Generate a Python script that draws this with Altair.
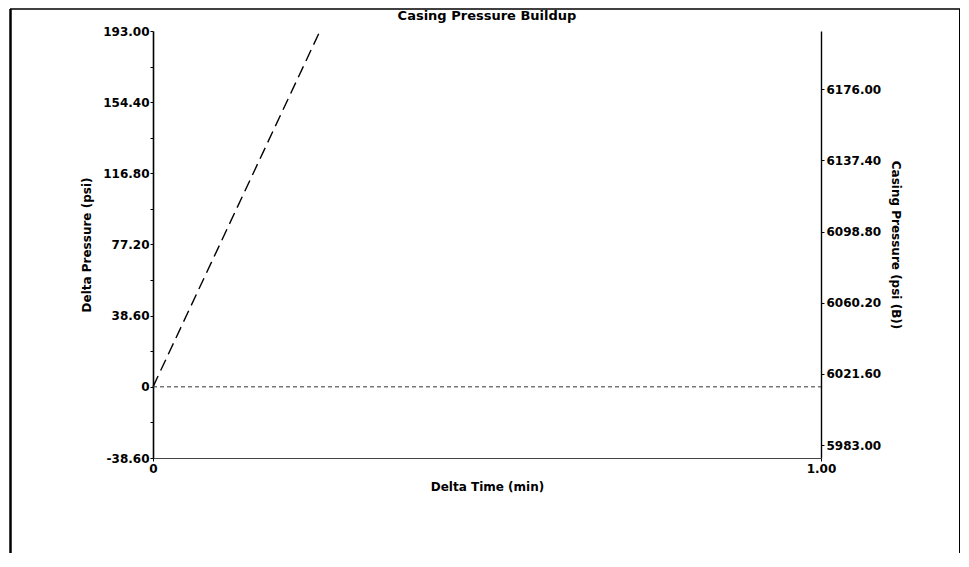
import altair as alt
import pandas as pd

# ---- text ----
chart_title = "Casing Pressure Buildup"
x_title = "Delta Time (min)"
y_left_title = "Delta Pressure (psi)"
y_right_title = "Casing Pressure (psi (B))"

# ---- series ----
buildup_time = [0.0, 0.25]
buildup_delta = [0.0, 193.0]
casing_time = [0.0, 1.0]
casing_pressure = [6014.6, 6014.6]

# ---- axes ----
x_domain = [0.0, 1.0]
x_tick_values = [0.0, 1.0]
x_tick_labels = ["0", "1.00"]

left_domain = [-38.6, 193.0]
left_major_values = [-38.6, 0.0, 38.6, 77.2, 115.8, 154.4, 193.0]
left_major_labels = ["-38.60", "0", "38.60", "77.20", "116.80", "154.40", "193.00"]
left_minor_values = [-19.3, 19.3, 57.9, 96.5, 135.1, 173.7]

right_domain = [5976.0, 6207.6]
right_tick_values = [5983.0, 6021.6, 6060.2, 6098.8, 6137.4, 6176.0]
right_tick_labels = ["5983.00", "6021.60", "6060.20", "6098.80", "6137.40", "6176.00"]

FONT = "DejaVu Sans"


def label_expr(values, labels):
    parts = [f"abs(datum.value - ({v})) < 0.01 ? '{lab}'" for v, lab in zip(values, labels)]
    return " : ".join(parts) + " : ''"


common_axis = dict(
    labelFont=FONT, labelFontSize=12, labelFontWeight="bold", labelColor="black",
    titleFont=FONT, titleFontSize=12, titleFontWeight="bold", titleColor="black",
    tickColor="black", tickSize=3, tickWidth=1,
    grid=False, labelFlush=False, labelOverlap=False,
)

x_axis = alt.Axis(
    title=x_title, values=x_tick_values,
    labelExpr=label_expr(x_tick_values, x_tick_labels),
    labelPadding=2, titlePadding=7, domainWidth=1, domainColor="#444",
    **common_axis,
)
left_axis = alt.Axis(
    title=y_left_title, orient="left",
    values=sorted(left_major_values + left_minor_values),
    labelExpr=label_expr(left_major_values, left_major_labels),
    labelPadding=1, titlePadding=9, domainWidth=1.6, domainColor="black",
    **common_axis,
)
right_axis = alt.Axis(
    title=y_right_title, orient="right", values=right_tick_values,
    labelExpr=label_expr(right_tick_values, right_tick_labels),
    labelPadding=2, titlePadding=8, domainWidth=1.4, domainColor="black",
    **common_axis,
)

x_scale = alt.Scale(domain=x_domain, nice=False, zero=False)

df_buildup = pd.DataFrame({"t": buildup_time, "dp": buildup_delta})
df_casing = pd.DataFrame({"t": casing_time, "cp": casing_pressure})

steep = alt.Chart(df_buildup).mark_line(
    color="black", strokeWidth=1.4, strokeDash=[12, 6]
).encode(
    x=alt.X("t:Q", scale=x_scale, axis=x_axis),
    y=alt.Y("dp:Q", scale=alt.Scale(domain=left_domain, nice=False, zero=False), axis=left_axis),
)

flat = alt.Chart(df_casing).mark_line(
    color="#333", strokeWidth=1, strokeDash=[4, 3]
).encode(
    x=alt.X("t:Q", scale=x_scale, axis=x_axis),
    y=alt.Y("cp:Q", scale=alt.Scale(domain=right_domain, nice=False, zero=False), axis=right_axis),
)

# page frame (decoration)
frame_df = pd.DataFrame({"k": [0]})
frame_left = alt.Chart(frame_df).mark_rule(color="black", strokeWidth=2.5).encode(
    x=alt.value(-142.5), y=alt.value(-22), y2=alt.value(522)
)
frame_top = alt.Chart(frame_df).mark_rule(color="black", strokeWidth=1.5).encode(
    x=alt.value(-143), x2=alt.value(808), y=alt.value(-22)
)
frame_right = alt.Chart(frame_df).mark_rule(color="black", strokeWidth=2).encode(
    x=alt.value(807), y=alt.value(-22), y2=alt.value(522)
)

chart = alt.layer(steep, flat, frame_left, frame_top, frame_right).resolve_scale(
    y="independent"
).properties(
    width=668,
    height=427,
    background="white",
    autosize=alt.AutoSizeParams(type="none"),
    padding={"left": 145, "top": 23, "right": 139, "bottom": 95},
    title=alt.Title(
        chart_title, font=FONT, fontSize=13, fontWeight="bold", color="black",
        anchor="middle", frame="group", offset=-15,
    ),
).configure_view(stroke=None)

chart.save("out.html", embed_options={"renderer": "svg", "actions": False})
